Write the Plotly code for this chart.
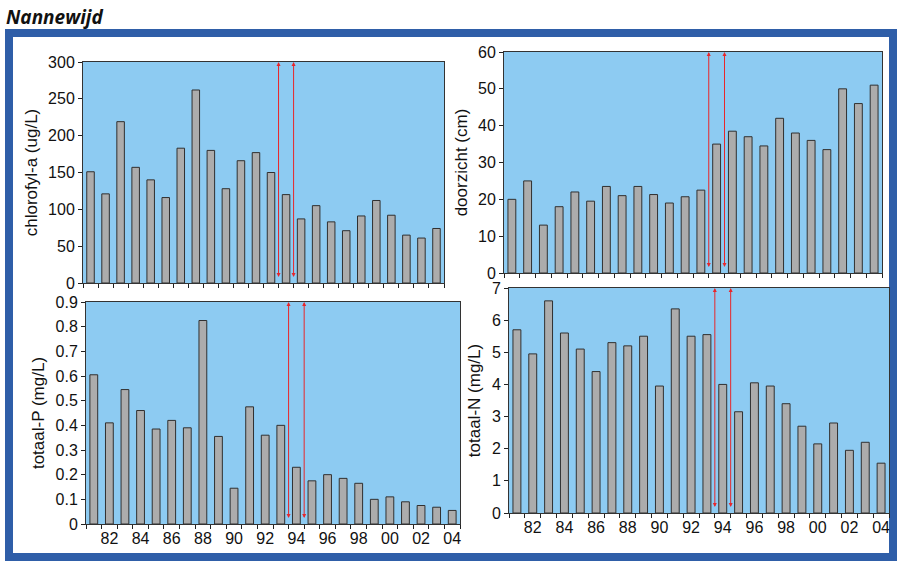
import plotly.graph_objects as go

years = list(range(1981, 2005))
chlorofyl = [151, 121, 219, 157, 140, 116, 183, 262, 180, 128, 166, 177,
             150, 120, 87, 105, 83, 71, 91, 112, 92, 65, 61, 74]
doorzicht = [20, 25, 13, 18, 22, 19.5, 23.5, 21, 23.5, 21.3, 19, 20.7,
             22.5, 35, 38.5, 37, 34.5, 42, 38, 36, 33.5, 50, 46, 51]
totaal_p = [0.605, 0.41, 0.545, 0.46, 0.385, 0.42, 0.39, 0.825, 0.355, 0.145,
            0.475, 0.36, 0.40, 0.23, 0.175, 0.20, 0.185, 0.165, 0.10, 0.11,
            0.09, 0.075, 0.068, 0.055]
totaal_n = [5.7, 4.95, 6.6, 5.6, 5.1, 4.4, 5.3, 5.2, 5.5, 3.95, 6.35, 5.5,
            5.55, 4.0, 3.15, 4.05, 3.95, 3.4, 2.7, 2.15, 2.8, 1.95, 2.2, 1.55]
tick_years = list(range(1982, 2005, 2))
tick_labels = ["82", "84", "86", "88", "90", "92", "94", "96", "98", "00", "02", "04"]
breaks = [1993.5, 1994.5]

W, H = 899, 569
def px(x0, x1):
    return [x0 / W, x1 / W]
def py(top, bottom):
    return [1 - bottom / H, 1 - top / H]

panels = [
    dict(vals=chlorofyl, title="chlorofyl-a (ug/L)", rng=[0, 300], dtick=50,
         dx=px(83, 444), dy=py(62, 283), labels=False),
    dict(vals=doorzicht, title="doorzicht (cm)", rng=[0, 60], dtick=10,
         dx=px(504, 882), dy=py(52, 273), labels=False),
    dict(vals=totaal_p, title="totaal-P (mg/L)", rng=[0, 0.9], dtick=0.1,
         dx=px(86, 460), dy=py(302, 524), labels=True),
    dict(vals=totaal_n, title="totaal-N (mg/L)", rng=[0, 7], dtick=1,
         dx=px(509, 889), dy=py(288, 513), labels=True),
]

fig = go.Figure()
font_main = "Liberation Sans, Arial, sans-serif"
annotations = []
for i, p in enumerate(panels, start=1):
    xa = "x" if i == 1 else f"x{i}"
    ya = "y" if i == 1 else f"y{i}"
    fig.add_trace(go.Bar(x=years, y=p["vals"], xaxis=xa, yaxis=ya, width=0.5,
                         marker=dict(color="#acacac", line=dict(color="#303030", width=1)),
                         showlegend=False, hoverinfo="skip"))
    xkey = "xaxis" if i == 1 else f"xaxis{i}"
    ykey = "yaxis" if i == 1 else f"yaxis{i}"
    fig.update_layout({
        xkey: dict(domain=p["dx"], anchor=ya, range=[1980.5, 2004.5],
                   automargin=False,
                   tickvals=tick_years,
                   ticktext=tick_labels if p["labels"] else [""] * len(tick_years),
                   ticks="", showgrid=False, zeroline=False,
                   showline=True, mirror=True, linecolor="#333333", linewidth=1,
                   minor=dict(tick0=1980.5, dtick=1, ticks="outside", ticklen=4,
                              tickcolor="#222222", showgrid=False),
                   tickfont=dict(family=font_main, size=16, color="#111111")),
        ykey: dict(domain=p["dy"], anchor=xa, range=p["rng"], dtick=p["dtick"],
                   automargin=False,
                   ticks="outside", ticklen=4, tickcolor="#222222",
                   showgrid=False, zeroline=False,
                   showline=True, mirror=True, linecolor="#333333", linewidth=1,
                   tickfont=dict(family=font_main, size=16, color="#111111"),
                   title=dict(text=p["title"], standoff=6,
                              font=dict(family=font_main, size=17, color="#111111"))),
    })
    top = p["rng"][1]
    for b in breaks:
        annotations.append(dict(x=b, y=top, ax=b, ay=top * 0.02, xref=xa, yref=ya,
                                axref=xa, ayref=ya, showarrow=True, text="",
                                arrowhead=2, startarrowhead=2, arrowside="end+start",
                                arrowsize=0.8, startarrowsize=0.8,
                                arrowwidth=1, arrowcolor="#e8262a"))

annotations.append(dict(x=4 / W, y=1 - 2 / H, xref="paper", yref="paper",
                        xanchor="left", yanchor="top", showarrow=False,
                        text="<b><i>Nannewijd</i></b>",
                        font=dict(family="Open Sans, sans-serif", size=19, color="#111111")))

fig.update_layout(
    width=W, height=H, margin=dict(l=0, r=0, t=0, b=0),
    paper_bgcolor="white", plot_bgcolor="#8dcbf2", bargap=0.5,
    annotations=annotations,
    shapes=[dict(type="rect", xref="paper", yref="paper",
                 x0=9 / W, x1=893 / W, y0=1 - 557 / H, y1=1 - 33 / H,
                 line=dict(color="#2f5ea8", width=8), layer="below")],
)

fig.write_html("out.html", config={"displayModeBar": False},
               post_script="document.body.style.margin='0';document.body.style.overflow='hidden';")
